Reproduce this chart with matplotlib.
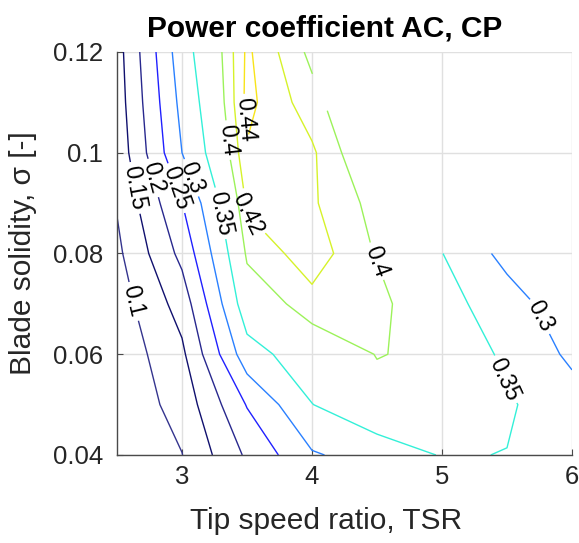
import matplotlib
matplotlib.use("Agg")
import matplotlib.pyplot as plt
import numpy as np

plt.rcParams['font.family'] = ['Liberation Sans', 'DejaVu Sans']

# grid of the measurements (NaN = not computed)
tsr = [2.5, 3.0, 3.5, 4.0, 4.5, 5.0, 5.5, 6.0]
solidity = [0.04, 0.05, 0.06, 0.07, 0.08, 0.09, 0.10, 0.11, 0.12]
nan = np.nan
cp = [
    [0.060, 0.099, 0.208, 0.295, 0.321, 0.353, 0.349, 0.330],
    [0.065, 0.118, 0.253, 0.349, 0.391, 0.375, 0.356, 0.320],
    [0.065, 0.140, 0.330, 0.380, 0.401, 0.395, 0.339, 0.291],
    [0.075, 0.171, 0.380, 0.413, 0.410, 0.368, 0.323, 0.268],
    [0.089, 0.214, 0.405, 0.431, 0.398, 0.351, 0.284, 0.262],
    [0.104, 0.249, 0.424, 0.423, 0.392, nan, nan, nan],
    [0.117, 0.300, 0.438, 0.4235, 0.372, nan, nan, nan],
    [0.125, 0.315, 0.446, 0.4085, 0.364, nan, nan, nan],
    [0.130, 0.330, 0.444, 0.394, 0.360, nan, nan, nan],
]

levels = [0.1, 0.15, 0.2, 0.25, 0.3, 0.35, 0.4, 0.42, 0.44]
level_colors = ['#34348e', '#10106e', '#28288e', '#2020ff', '#2a80ff',
                '#33f0d8', '#9cf25a', '#d6f22a', '#f8e41a']

xticks = [3, 4, 5, 6]
yticks = [0.04, 0.06, 0.08, 0.1, 0.12]
yticklabels = ['0.04', '0.06', '0.08', '0.1', '0.12']

# where the contour labels sit (last one is the blank gap on the 0.4 line)
label_pos = [(3.485, 0.1065), (3.35, 0.1025), (2.635, 0.093), (2.78, 0.095),
             (2.96, 0.093), (3.07, 0.095), (3.30, 0.088), (3.51, 0.088),
             (2.63, 0.0705), (4.50, 0.0785), (5.73, 0.0672), (5.48, 0.0549),
             (4.06, 0.112)]

fig = plt.figure(figsize=(5.79, 5.43), dpi=100)
ax = fig.add_axes([117/579, 1 - 455/543, 455/579, 403/543])

cs = ax.contour(tsr, solidity, np.ma.masked_invalid(cp), levels=levels,
                colors=level_colors, linewidths=1.0)
texts = ax.clabel(cs, manual=label_pos, inline=True, fmt='%g', fontsize=16.5,
                  colors='k', inline_spacing=4)
texts[-1].set_visible(False)

ax.set_xlim(2.5, 6)
ax.set_ylim(0.04, 0.12)
ax.set_xticks(xticks)
ax.set_yticks(yticks)
ax.set_yticklabels(yticklabels)

ax.grid(True, color='#e0e0e0', lw=1)
ax.set_axisbelow(True)
for s in ['top', 'right']:
    ax.spines[s].set_visible(False)
for s in ['left', 'bottom']:
    ax.spines[s].set_color('#4a4a4a')
    ax.spines[s].set_linewidth(1)
ax.tick_params(direction='in', length=4, color='#4a4a4a', labelsize=18.5,
               labelcolor='#262626')
ax.tick_params(axis='x', pad=7)
ax.tick_params(axis='y', pad=10)

ax.set_title('Power coefficient AC, CP', fontsize=21.5, fontweight='bold',
             x=0.456, pad=11)
ax.set_xlabel('Tip speed ratio, TSR', fontsize=21.5, color='#262626')
ax.set_ylabel('Blade solidity, σ [-]', fontsize=21.5, color='#262626')
ax.xaxis.set_label_coords(0.459, -0.13)
ax.yaxis.set_label_coords(-0.175, 0.5)

fig.savefig('out.png', dpi=100)
